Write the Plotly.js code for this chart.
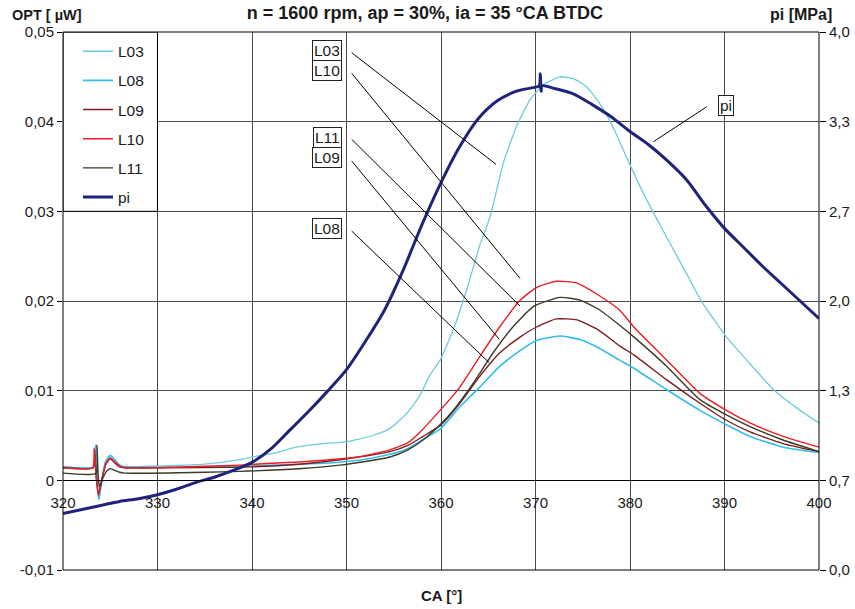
<!DOCTYPE html>
<html>
<head>
<meta charset="utf-8">
<script src="https://cdn.plot.ly/plotly-3.0.1.min.js"></script>
<style>
  html, body { margin: 0; padding: 0; background: #fff; }
  #chart { width: 855px; height: 609px; }
</style>
</head>
<body>
<div id="chart"></div>
<script>
// Crank angle samples [°CA] and measured signals per probe (OPT, µW)
const caL03 = [320, 323.2, 323.45, 323.55, 323.75, 324.1, 324.5, 325.0, 325.5, 326.0, 326.5, 330, 335, 338.7, 340, 342.25, 344.7, 347.5, 350, 352.8, 354.6, 356.4, 357.8, 358.8, 359.9, 361.3, 362.7, 364.1, 365.2, 366.6, 368, 369.4, 370.8, 372.6, 374, 375.4, 376.8, 378.2, 379.6, 381.1, 382.5, 384.2, 386, 387.6, 390.2, 392.7, 395.2, 398, 400];
const optL03 = [0.0015, 0.0015, 0.0038, 0.0005, -0.0020, 0.0000, 0.0020, 0.0027, 0.0022, 0.0017, 0.0015, 0.0016, 0.0018, 0.0023, 0.0026, 0.0030, 0.0037, 0.0041, 0.0043, 0.0050, 0.0058, 0.0075, 0.0095, 0.0117, 0.0134, 0.0168, 0.0212, 0.0262, 0.0294, 0.0354, 0.0395, 0.0424, 0.0441, 0.0450, 0.0448, 0.0439, 0.0420, 0.0394, 0.0361, 0.0327, 0.0298, 0.0265, 0.0230, 0.0199, 0.0160, 0.0130, 0.0101, 0.0078, 0.0064];

const caL08 = [320, 323.25, 323.5, 323.6, 323.8, 324.1, 324.5, 325.0, 325.5, 326.0, 326.5, 335, 340, 345, 347.5, 350, 352.8, 354.6, 356.4, 358, 359.9, 362, 364.1, 366.2, 368.4, 370.1, 372.6, 374.7, 376.8, 378.9, 380.4, 383.9, 387.4, 390.2, 392.7, 396.2, 400];
const optL08 = [0.0015, 0.0015, 0.0040, 0.0008, -0.0022, -0.0001, 0.0021, 0.0028, 0.0023, 0.0017, 0.0015, 0.0015, 0.0016, 0.0018, 0.0019, 0.0021, 0.0025, 0.0029, 0.0035, 0.0045, 0.0057, 0.0082, 0.0104, 0.0127, 0.0145, 0.0156, 0.0161, 0.0157, 0.0147, 0.0134, 0.0125, 0.0101, 0.0078, 0.0062, 0.0049, 0.0037, 0.0031];

const caL09 = [320, 323.2, 323.35, 323.5, 323.75, 324.1, 324.5, 325.0, 325.5, 326.0, 326.5, 330, 340, 345, 349.3, 352, 354.6, 356.5, 358.1, 359.9, 362, 364.1, 366.2, 368.4, 370.1, 372.2, 374.4, 376.6, 378.9, 380.4, 383.9, 387.4, 390.2, 392.7, 396.2, 400];
const optL09 = [0.0014, 0.0014, 0.0034, 0.0006, -0.0015, 0.0000, 0.0017, 0.0024, 0.0019, 0.0015, 0.0014, 0.0014, 0.0015, 0.0018, 0.0023, 0.0027, 0.0032, 0.0039, 0.0049, 0.0061, 0.0086, 0.0116, 0.0142, 0.0160, 0.0171, 0.0180, 0.0179, 0.0168, 0.0150, 0.0140, 0.0112, 0.0086, 0.0067, 0.0054, 0.0041, 0.0032];

const caL10 = [320, 323.15, 323.3, 323.5, 323.75, 324.1, 324.5, 325.0, 325.5, 326.0, 326.5, 330, 338.7, 342, 345.8, 351.1, 354.6, 356.5, 357.8, 359.9, 362, 364.1, 366.2, 368.4, 370.1, 372.2, 374.4, 376.6, 378.9, 380.4, 383.9, 387.4, 390.2, 392.7, 396.2, 400];
const optL10 = [0.0014, 0.0014, 0.0036, 0.0005, -0.0017, 0.0000, 0.0018, 0.0025, 0.0020, 0.0016, 0.0014, 0.0014, 0.0017, 0.0019, 0.0021, 0.0026, 0.0034, 0.0042, 0.0054, 0.0078, 0.0104, 0.0138, 0.0171, 0.0201, 0.0215, 0.0222, 0.0220, 0.0207, 0.0190, 0.0171, 0.0134, 0.0097, 0.0078, 0.0064, 0.0049, 0.0037];

const caL11 = [320, 323.5, 323.6, 323.7, 323.85, 324.2, 324.6, 325.0, 325.5, 326.0, 326.5, 335, 338.7, 345, 349.3, 352, 354.6, 356.5, 358.1, 359.9, 361.3, 363.4, 365.5, 367.6, 369.8, 372.6, 374.7, 376.8, 378.9, 380.4, 383.9, 387.4, 390.2, 392.7, 396.2, 400];
const optL11 = [0.0008, 0.0008, 0.0039, 0.0010, -0.0007, 0.0002, 0.0010, 0.0013, 0.0011, 0.0009, 0.0008, 0.0009, 0.0010, 0.0013, 0.0017, 0.0021, 0.0026, 0.0034, 0.0045, 0.0062, 0.0078, 0.0108, 0.0142, 0.0171, 0.0194, 0.0204, 0.0201, 0.0190, 0.0173, 0.0160, 0.0127, 0.0090, 0.0073, 0.0060, 0.0045, 0.0032];

// Indicated cylinder pressure [MPa]
const caPi = [320, 322, 324, 326, 328, 330, 332, 334, 336, 338, 340, 342, 344, 346, 348, 350, 352, 354, 356, 358, 360, 362, 364, 366, 368, 370, 370.4, 370.5, 370.6, 370.7, 372, 374, 376, 378, 380, 382, 384, 386, 388, 390, 392, 394, 396, 398, 400];
const pi = [0.42, 0.45, 0.48, 0.51, 0.53, 0.56, 0.60, 0.65, 0.69, 0.74, 0.80, 0.90, 1.04, 1.18, 1.33, 1.49, 1.70, 1.93, 2.23, 2.57, 2.88, 3.15, 3.36, 3.49, 3.56, 3.59, 3.60, 3.69, 3.56, 3.60, 3.58, 3.54, 3.46, 3.37, 3.26, 3.16, 3.04, 2.90, 2.71, 2.54, 2.40, 2.26, 2.13, 2.00, 1.87];

// Axis tick values and labels (decimal comma)
const caTicks = [320, 330, 340, 350, 360, 370, 380, 390, 400];
const optTicks = [-0.01, 0, 0.01, 0.02, 0.03, 0.04, 0.05];
const optTickText = ['-0,01', '0', '0,01', '0,02', '0,03', '0,04', '0,05'];
const piTicks = [0, 4 / 6, 8 / 6, 2, 16 / 6, 20 / 6, 4];
const piTickText = ['0,0', '0,7', '1,3', '2,0', '2,7', '3,3', '4,0'];

const FONT = 'Liberation Sans, Arial, Helvetica, sans-serif';
const TXT = '#1a1a1a';
const FS = 15;

function probe(name, x, y, color, width) {
  return {
    type: 'scatter', mode: 'lines', name: name, x: x, y: y,
    line: { color: color, width: width, shape: 'spline', smoothing: 0.5 },
    legendgroup: name, xaxis: 'x', yaxis: 'y', hoverinfo: 'skip'
  };
}

const traces = [
  probe('L03', caL03, optL03, '#6cccdc', 1.3),
  probe('L08', caL08, optL08, '#33bdea', 1.6),
  probe('L09', caL09, optL09, '#7d1c1e', 1.4),
  probe('L10', caL10, optL10, '#ec1c24', 1.4),
  probe('L11', caL11, optL11, '#3a3a26', 1.4),
  {
    type: 'scatter', mode: 'lines', name: 'pi', x: caPi, y: pi,
    line: { color: '#1f2379', width: 3, shape: 'spline', smoothing: 0.8 },
    legendgroup: 'pi', xaxis: 'x', yaxis: 'y2', hoverinfo: 'skip'
  }
];

// Boxed series labels with leader lines (label centre, line start, line end)
const callouts = [
  { t: 'L03', lx: 347.96, ly: 0.04799, x0: 350.55, y0: 0.04769, x1: 365.82, y1: 0.03524 },
  { t: 'L10', lx: 347.96, ly: 0.04567, x0: 350.55, y0: 0.04539, x1: 368.36, y1: 0.02253 },
  { t: 'L11', lx: 347.96, ly: 0.03828, x0: 350.55, y0: 0.03803, x1: 368.36, y1: 0.01944 },
  { t: 'L09', lx: 347.96, ly: 0.03596, x0: 350.55, y0: 0.03561, x1: 366.17, y1: 0.01572 },
  { t: 'L08', lx: 347.96, ly: 0.02806, x0: 350.55, y0: 0.02780, x1: 365.11, y1: 0.01311 },
  { t: 'pi',  lx: 390.11, ly: 0.04185, x0: 388.12, y0: 0.04166, x1: 382.47, y1: 0.03776 }
];

const shapes = [
  // white legend cell
  { type: 'rect', xref: 'x', yref: 'y', x0: 320, x1: 330, y0: 0.03, y1: 0.05,
    fillcolor: '#ffffff', line: { color: '#000', width: 1 }, layer: 'above' },
  // plot frame
  { type: 'rect', xref: 'paper', yref: 'paper', x0: 0, x1: 1, y0: 0, y1: 1,
    line: { color: '#000', width: 1 }, layer: 'above' }
];
const annotations = [];
callouts.forEach(c => {
  shapes.push({ type: 'line', xref: 'x', yref: 'y', x0: c.x0, y0: c.y0, x1: c.x1, y1: c.y1,
    line: { color: '#000', width: 1 }, layer: 'above' });
  annotations.push({ xref: 'x', yref: 'y', x: c.lx, y: c.ly, text: c.t, showarrow: false,
    font: { family: FONT, size: 15.5, color: TXT }, bgcolor: '#fff',
    bordercolor: '#222', borderwidth: 1, borderpad: 1 });
});

annotations.push(
  { xref: 'paper', yref: 'paper', x: -0.0701, y: 1.0316, xanchor: 'left', yanchor: 'middle',
    text: '<b>OPT [ µW]</b>', showarrow: false, font: { family: FONT, size: 14.5, color: TXT } },
  { xref: 'paper', yref: 'paper', x: 1.0198, y: 1.0316, xanchor: 'right', yanchor: 'middle',
    text: '<b>pi [MPa]</b>', showarrow: false, font: { family: FONT, size: 16, color: TXT } },
  { xref: 'paper', yref: 'paper', x: 0.5, y: -0.0465, xanchor: 'center', yanchor: 'middle',
    text: '<b>CA [°]</b>', showarrow: false, font: { family: FONT, size: 15, color: TXT } }
);

const GRID = '#4a4a4a';

const layout = {
  width: 855, height: 609,
  margin: { l: 63, r: 36, t: 32, b: 39 },
  paper_bgcolor: '#fff', plot_bgcolor: '#fff',
  font: { family: FONT, size: FS, color: TXT },
  title: {
    text: '<b>n = 1600 rpm, ap = 30%, ia = 35 °CA BTDC</b>',
    font: { family: FONT, size: 18, color: TXT },
    xref: 'container', yref: 'container', x: 0.497, y: 0.9787, xanchor: 'center', yanchor: 'middle'
  },
  xaxis: {
    range: [320, 400], tickvals: caTicks, anchor: 'free', position: 1 / 6,
    showline: true, linecolor: '#000', linewidth: 1,
    showgrid: true, gridcolor: GRID, gridwidth: 1, zeroline: false,
    ticks: 'outside', ticklen: 9, tickcolor: 'rgba(0,0,0,0)',
    tickfont: { family: FONT, size: FS, color: TXT }
  },
  yaxis: {
    range: [-0.01, 0.05], tickvals: optTicks, ticktext: optTickText,
    showgrid: true, gridcolor: GRID, gridwidth: 1, zeroline: false, showline: false,
    ticks: 'outside', ticklen: 5, tickcolor: '#000',
    tickfont: { family: FONT, size: FS, color: TXT }
  },
  yaxis2: {
    range: [0, 4], tickvals: piTicks, ticktext: piTickText,
    overlaying: 'y', side: 'right', showgrid: false, zeroline: false, showline: false,
    ticks: 'outside', ticklen: 6, tickcolor: '#000',
    tickfont: { family: FONT, size: FS, color: TXT }
  },
  showlegend: true,
  legend: {
    x: 0.0198, y: 0.995, xanchor: 'left', yanchor: 'top',
    bgcolor: 'rgba(0,0,0,0)', borderwidth: 0, tracegroupgap: 6,
    font: { family: FONT, size: 15.5, color: TXT }
  },
  shapes: shapes,
  annotations: annotations
};

Plotly.newPlot('chart', traces, layout, { staticPlot: true, displayModeBar: false });
</script>
</body>
</html>
